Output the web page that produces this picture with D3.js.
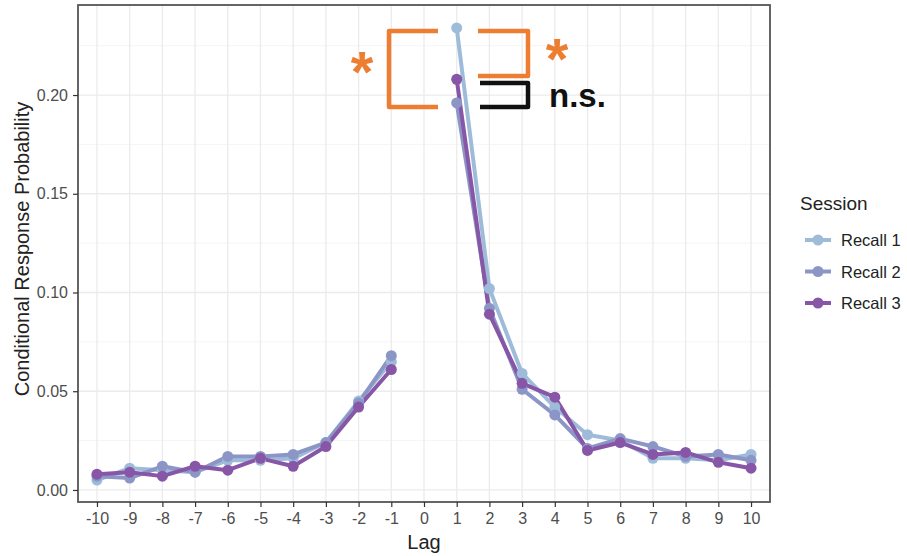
<!DOCTYPE html>
<html>
<head>
<meta charset="utf-8">
<script src="https://d3js.org/d3.v7.min.js"></script>
<style>
  body { margin: 0; background: #fff; }
  svg { font-family: "Liberation Sans", Arial, sans-serif; }
</style>
</head>
<body>
<svg width="907" height="556"></svg>
<script>
// data
var lags = [-10, -9, -8, -7, -6, -5, -4, -3, -2, -1, 1, 2, 3, 4, 5, 6, 7, 8, 9, 10];
var recall1 = [0.005, 0.011, 0.010, 0.009, 0.015, 0.015, 0.016, 0.024, 0.045, 0.065,
               0.234, 0.102, 0.059, 0.042, 0.028, 0.025, 0.016, 0.016, 0.015, 0.018];
var recall2 = [0.007, 0.006, 0.012, 0.009, 0.017, 0.017, 0.018, 0.024, 0.044, 0.068,
               0.196, 0.092, 0.051, 0.038, 0.021, 0.026, 0.022, 0.017, 0.018, 0.015];
var recall3 = [0.008, 0.009, 0.007, 0.012, 0.010, 0.016, 0.012, 0.022, 0.042, 0.061,
               0.208, 0.089, 0.054, 0.047, 0.020, 0.024, 0.018, 0.019, 0.014, 0.011];
var sessions = ["Recall 1", "Recall 2", "Recall 3"];
var colors = ["#9ebcda", "#8c96c6", "#8856a7"];
var xTicks = d3.range(-10, 11);
var yTicks = [0, 0.05, 0.10, 0.15, 0.20];

var series = [recall1, recall2, recall3].map(function(vals, i) {
  return { name: sessions[i], color: colors[i],
           values: lags.map(function(l, j) { return { lag: l, v: vals[j] }; }) };
});

var svg = d3.select("svg");
var panel = { left: 78, right: 770, top: 5, bottom: 502 };

var x = d3.scaleLinear().domain([-10.58, 10.58]).range([panel.left, panel.right]);
var y = d3.scaleLinear().domain([-0.0061, 0.2456]).range([panel.bottom, panel.top]);

// grid
var g = svg.append("g");
var minorY = d3.range(0.025, 0.25, 0.05);
g.selectAll(".gminy").data(minorY).enter().append("line")
  .attr("x1", panel.left).attr("x2", panel.right)
  .attr("y1", function(d) { return y(d); }).attr("y2", function(d) { return y(d); })
  .attr("stroke", "#f2f2f2").attr("stroke-width", 0.8);
g.selectAll(".gy").data(yTicks).enter().append("line")
  .attr("x1", panel.left).attr("x2", panel.right)
  .attr("y1", function(d) { return y(d); }).attr("y2", function(d) { return y(d); })
  .attr("stroke", "#ebebeb").attr("stroke-width", 1.3);
g.selectAll(".gx").data(xTicks).enter().append("line")
  .attr("y1", panel.top).attr("y2", panel.bottom)
  .attr("x1", function(d) { return x(d); }).attr("x2", function(d) { return x(d); })
  .attr("stroke", "#ebebeb").attr("stroke-width", 1.3);

// lines (split at lag 0)
var line = d3.line().x(function(d) { return x(d.lag); }).y(function(d) { return y(d.v); });
series.forEach(function(s) {
  var neg = s.values.filter(function(d) { return d.lag < 0; });
  var pos = s.values.filter(function(d) { return d.lag > 0; });
  [neg, pos].forEach(function(part) {
    svg.append("path").datum(part).attr("d", line)
      .attr("fill", "none").attr("stroke", s.color).attr("stroke-width", 4)
      .attr("stroke-linejoin", "round");
  });
});
series.forEach(function(s) {
  svg.append("g").selectAll("circle").data(s.values).enter().append("circle")
    .attr("cx", function(d) { return x(d.lag); })
    .attr("cy", function(d) { return y(d.v); })
    .attr("r", 5.5).attr("fill", s.color);
});

// panel border
svg.append("rect").attr("x", panel.left).attr("y", panel.top)
  .attr("width", panel.right - panel.left).attr("height", panel.bottom - panel.top)
  .attr("fill", "none").attr("stroke", "#555").attr("stroke-width", 1.8);

// axes
var xAxis = svg.append("g").attr("transform", "translate(0," + panel.bottom + ")")
  .call(d3.axisBottom(x).tickValues(xTicks).tickSize(5).tickPadding(6)
    .tickFormat(function(d) { return String(d); }));
var yAxis = svg.append("g").attr("transform", "translate(" + panel.left + ",0)")
  .call(d3.axisLeft(y).tickValues(yTicks).tickSize(5).tickPadding(5).tickFormat(d3.format(".2f")));
[xAxis, yAxis].forEach(function(a) {
  a.select(".domain").remove();
  a.selectAll(".tick line").attr("stroke", "#333").attr("stroke-width", 1.2);
  a.selectAll(".tick text").attr("fill", "#4d4d4d").style("font-size", "16px")
    .style("font-family", "Liberation Sans, Arial, sans-serif");
});

svg.append("text").attr("x", x(0)).attr("y", 549).attr("text-anchor", "middle")
  .style("font-size", "20px").attr("fill", "#222").text("Lag");
svg.append("text").attr("transform", "translate(29,249) rotate(-90)")
  .attr("text-anchor", "middle").style("font-size", "20px").attr("fill", "#222")
  .text("Conditional Response Probability");

// legend
var leg = svg.append("g");
leg.append("text").attr("x", 800).attr("y", 210).style("font-size", "19px").attr("fill", "#222").text("Session");
series.forEach(function(s, i) {
  var ly = 240 + i * 31.5;
  leg.append("line").attr("x1", 805).attr("x2", 831).attr("y1", ly).attr("y2", ly)
    .attr("stroke", s.color).attr("stroke-width", 4);
  leg.append("circle").attr("cx", 818).attr("cy", ly).attr("r", 5.5).attr("fill", s.color);
  leg.append("text").attr("x", 841).attr("y", ly + 6).style("font-size", "16.5px")
    .attr("fill", "#222").text(s.name);
});

// significance annotations
var orange = "#ed7d31";
var ann = svg.append("g").attr("fill", "none").attr("stroke-width", 4.5)
  .attr("stroke-linejoin", "round").attr("stroke-linecap", "butt");
ann.append("path").attr("stroke", orange)
  .attr("d", "M438,31 H389 V107 H438");
ann.append("path").attr("stroke", orange)
  .attr("d", "M478,31 H528 V76 H478");
ann.append("path").attr("stroke", "#111")
  .attr("d", "M480,83 H528 V107 H480");
svg.append("text").attr("x", 362).attr("y", 92).attr("text-anchor", "middle")
  .style("font-size", "58px").style("font-weight", "bold").attr("fill", orange).text("*");
svg.append("text").attr("x", 557).attr("y", 79).attr("text-anchor", "middle")
  .style("font-size", "58px").style("font-weight", "bold").attr("fill", orange).text("*");
svg.append("text").attr("x", 549).attr("y", 107)
  .style("font-size", "33px").style("font-weight", "bold").attr("fill", "#111").text("n.s.");
</script>
</body>
</html>
